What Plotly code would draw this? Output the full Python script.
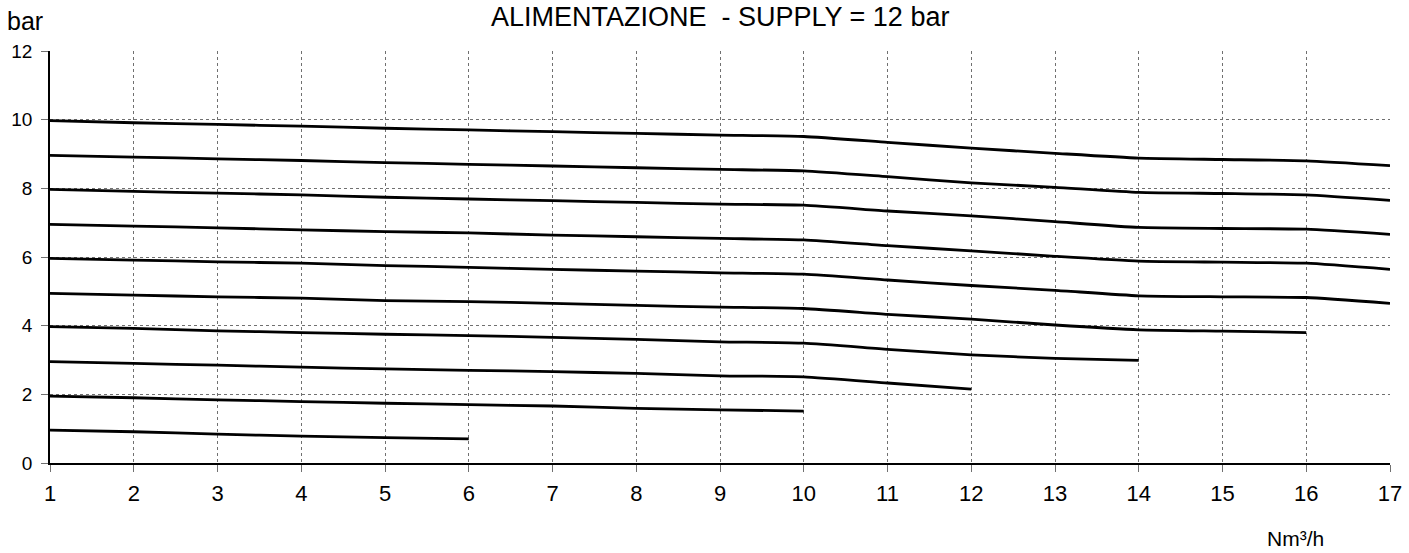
import plotly.graph_objects as go

flow = list(range(1, 18))
s10 = [9.97, 9.91, 9.86, 9.81, 9.75, 9.70, 9.65, 9.60, 9.55, 9.51, 9.34, 9.17, 9.02, 8.88, 8.84, 8.80, 8.66]
s9 = [8.96, 8.91, 8.86, 8.81, 8.75, 8.70, 8.65, 8.60, 8.55, 8.51, 8.34, 8.16, 8.03, 7.88, 7.85, 7.81, 7.65]
s8 = [7.97, 7.91, 7.86, 7.81, 7.74, 7.69, 7.64, 7.59, 7.54, 7.51, 7.34, 7.20, 7.03, 6.86, 6.83, 6.81, 6.66]
s7 = [6.95, 6.90, 6.85, 6.79, 6.74, 6.70, 6.64, 6.59, 6.54, 6.50, 6.33, 6.18, 6.02, 5.88, 5.85, 5.82, 5.64]
s6 = [5.96, 5.91, 5.86, 5.82, 5.75, 5.70, 5.64, 5.59, 5.54, 5.50, 5.33, 5.17, 5.03, 4.87, 4.84, 4.82, 4.65]
s5 = [4.94, 4.89, 4.84, 4.80, 4.73, 4.70, 4.65, 4.59, 4.54, 4.50, 4.33, 4.19, 4.02, 3.88, 3.84, 3.80]
s4 = [3.97, 3.92, 3.85, 3.80, 3.75, 3.71, 3.66, 3.60, 3.53, 3.49, 3.31, 3.15, 3.05, 2.99]
s3 = [2.95, 2.90, 2.85, 2.79, 2.74, 2.70, 2.66, 2.61, 2.54, 2.51, 2.33, 2.15]
s2 = [1.95, 1.90, 1.84, 1.79, 1.74, 1.70, 1.66, 1.59, 1.55, 1.51]
s1 = [0.96, 0.91, 0.84, 0.78, 0.74, 0.70]

series = [s10, s9, s8, s7, s6, s5, s4, s3, s2, s1]
x_ticks = list(range(1, 18))
y_ticks = [0, 2, 4, 6, 8, 10, 12]

title_text = "ALIMENTAZIONE  - SUPPLY = 12 bar"
y_unit = "bar"
x_unit = "Nm³/h"

fig = go.Figure()
for s in series:
    fig.add_trace(go.Scatter(
        x=flow[:len(s)], y=s, mode="lines",
        line=dict(color="black", width=2.8, shape="spline", smoothing=0.5),
        showlegend=False, hoverinfo="skip"))

font_main = "Liberation Sans, Arial, sans-serif"

fig.update_layout(
    width=1409, height=553,
    margin=dict(l=50, r=19, t=51, b=90),
    paper_bgcolor="white", plot_bgcolor="white",
    font=dict(family=font_main, color="black"),
    showlegend=False,
    annotations=[
        dict(text=title_text, x=0.5, y=1, xref="paper", yref="paper",
             xanchor="center", yanchor="bottom", yshift=17, showarrow=False,
             font=dict(size=27, family=font_main, color="black")),
        dict(text=y_unit, x=0, y=1, xref="paper", yref="paper",
             xanchor="right", yanchor="bottom", xshift=-5, yshift=14, showarrow=False,
             font=dict(size=25, family=font_main, color="black")),
        dict(text=x_unit, x=1, y=0, xref="paper", yref="paper",
             xanchor="right", yanchor="top", xshift=-64, yshift=-62, showarrow=False,
             font=dict(size=21, family=font_main, color="black")),
    ],
)

fig.update_xaxes(
    range=[1, 17], tickvals=x_ticks, ticktext=[str(v) for v in x_ticks],
    showgrid=True, gridcolor="#707070", griddash="dot", gridwidth=1,
    showline=True, linecolor="black", linewidth=1.5,
    ticks="outside", ticklen=7, tickcolor="#707070", tickwidth=1,
    zeroline=False, tickfont=dict(size=22, family=font_main, color="black"),
    ticklabelstandoff=3, automargin=False,
)
fig.update_yaxes(
    range=[0, 12], tickvals=y_ticks, ticktext=[str(v) for v in y_ticks],
    showgrid=True, gridcolor="#707070", griddash="dot", gridwidth=1,
    showline=True, linecolor="black", linewidth=1.5,
    ticks="outside", ticklen=7, tickcolor="#707070", tickwidth=1,
    zeroline=False, tickfont=dict(size=19, family=font_main, color="black"),
    ticklabelstandoff=5, automargin=False,
)

fig.write_html("out.html", config={"displayModeBar": False},
               post_script="document.body.style.margin='0px';document.body.style.overflow='hidden';")
